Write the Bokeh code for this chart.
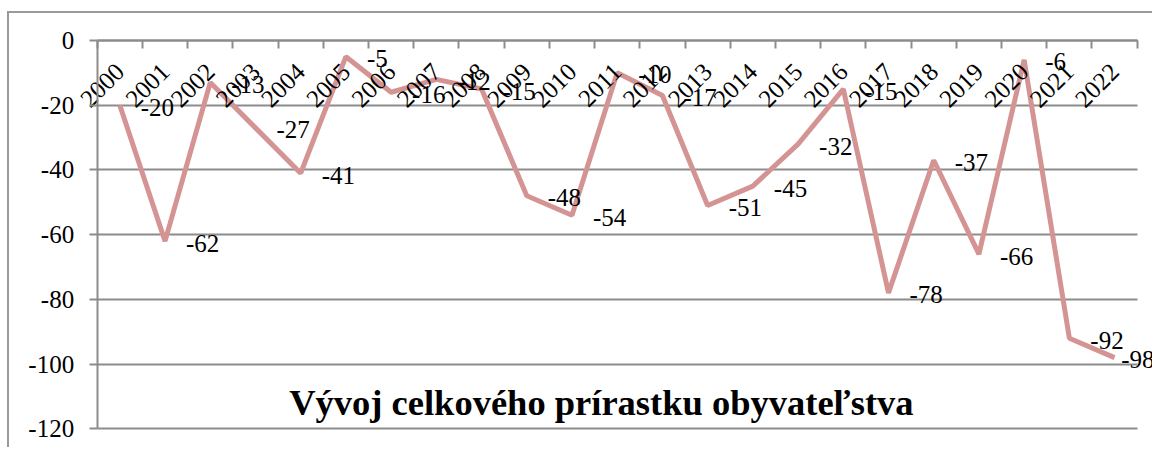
import math
from bokeh.plotting import figure
from bokeh.models import (ColumnDataSource, LabelSet, Label, FixedTicker, LinearAxis,
                          Range1d)
from bokeh.core.properties import value
from bokeh.embed import file_html
from bokeh.resources import INLINE

years = list(range(2000, 2023))
values = [-20, -62, -13, -27, -41, -5, -16, -12, -15, -48, -54, -10, -17,
          -51, -45, -32, -15, -78, -37, -66, -6, -92, -98]
y_ticks = [0, -20, -40, -60, -80, -100, -120]
title_text = "Vývoj celkového prírastku obyvateľstva"

GRID = "#8c8c8c"
LINE = "#D49494"
FONT = "Liberation Serif"
FS = 25

# canvas / plot-area geometry (pixels inside the figure)
W, H = 1145, 436
PA_LEFT, PA_RIGHT, PA_TOP, PA_BOTTOM = 87.7, 1127.7, 27.0, 415.3
X0, X1 = years[0] - 0.5, years[-1] + 0.5
Y0, Y1 = y_ticks[-1], y_ticks[0]
cat_w = (PA_RIGHT - PA_LEFT) / (X1 - X0)
y_px = (PA_BOTTOM - PA_TOP) / (Y1 - Y0)
x_range = Range1d(X0 - PA_LEFT / cat_w, X1 + (W - PA_RIGHT) / cat_w)
y_range = Range1d(Y0 - (H - PA_BOTTOM) / y_px, Y1 + PA_TOP / y_px)

p = figure(width=W, height=H, output_backend="svg", toolbar_location=None,
           x_range=x_range, y_range=y_range,
           x_axis_location=None, y_axis_location="left",
           min_border_left=0, min_border_right=0, min_border_top=0,
           min_border_bottom=0)
p.styles = {"border-left": "2px solid #9a9a9a", "border-top": "2px solid #9a9a9a",
            "margin-left": "7px", "margin-top": "11px"}
p.outline_line_color = None
p.background_fill_color = "white"
p.border_fill_color = "white"

for g in p.xgrid:
    g.visible = False
p.ygrid.ticker = FixedTicker(ticks=y_ticks)
p.ygrid.grid_line_color = GRID
p.ygrid.grid_line_width = 2
p.ygrid.cross_bounds = (X0, X1)

yax = p.yaxis[0]
yax.fixed_location = X0
yax.bounds = (Y0, Y1)
yax.ticker = FixedTicker(ticks=y_ticks)
yax.major_tick_out = 8
yax.major_tick_in = 0
yax.minor_tick_line_color = None
yax.major_tick_line_color = GRID
yax.major_tick_line_width = 2
yax.axis_line_color = GRID
yax.axis_line_width = 2
yax.major_label_text_font = FONT
yax.major_label_text_font_size = f"{FS}px"
yax.major_label_text_color = "black"
yax.major_label_standoff = 15
yax.major_label_overrides = {t: str(t) for t in y_ticks}

# tick marks between categories at the zero line
tick_pos = [y - 0.5 for y in years] + [X1]
tick_axis = LinearAxis(ticker=FixedTicker(ticks=tick_pos), fixed_location=0,
                       bounds=(X0, X1))
tick_axis.major_tick_out = 8
tick_axis.major_tick_in = 0
tick_axis.minor_tick_line_color = None
tick_axis.major_tick_line_color = GRID
tick_axis.major_tick_line_width = 2
tick_axis.axis_line_color = GRID
tick_axis.axis_line_width = 2
tick_axis.major_label_text_alpha = 0
tick_axis.major_label_overrides = {t: "" for t in tick_pos}
p.add_layout(tick_axis, "below")

# category labels
lab_axis = LinearAxis(ticker=FixedTicker(ticks=years), fixed_location=0,
                      bounds=(X0, X1))
lab_axis.major_tick_line_color = None
lab_axis.minor_tick_line_color = None
lab_axis.axis_line_color = None
lab_axis.major_tick_out = 0
lab_axis.major_tick_in = 0
lab_axis.major_label_orientation = math.pi / 4
lab_axis.major_label_text_font = FONT
lab_axis.major_label_text_font_size = f"{FS}px"
lab_axis.major_label_text_color = "black"
lab_axis.major_label_standoff = 27
lab_axis.major_label_overrides = {y: str(y) for y in years}
p.add_layout(lab_axis, "below")

# data labels to the right of each point, kept inside the canvas (as Excel does)
texts = [str(v) for v in values]
x_off = []
for yr, t in zip(years, texts):
    px = PA_LEFT + (yr - X0) * cat_w
    est_w = FS * (0.333 + 0.5 * (len(t) - 1))
    x_off.append(min(21, W - px - est_w))

src = ColumnDataSource(dict(x=years, y=values, label=texts, xoff=x_off))
p.line("x", "y", source=src, line_color=LINE, line_width=5)

labels = LabelSet(x="x", y="y", text="label", source=src, x_offset="xoff", y_offset=-2,
                  text_align="left", text_baseline="middle",
                  text_font=value(FONT), text_font_size=value(f"{FS}px"),
                  text_color="black")
p.add_layout(labels)

title = Label(x=2010.65, y=-111.9, text=title_text, text_align="center",
              text_baseline="alphabetic", text_font=FONT, text_font_size="36.5px",
              text_font_style="bold", text_color="black")
p.add_layout(title)

open("out.html", "w").write(file_html(p, INLINE))
